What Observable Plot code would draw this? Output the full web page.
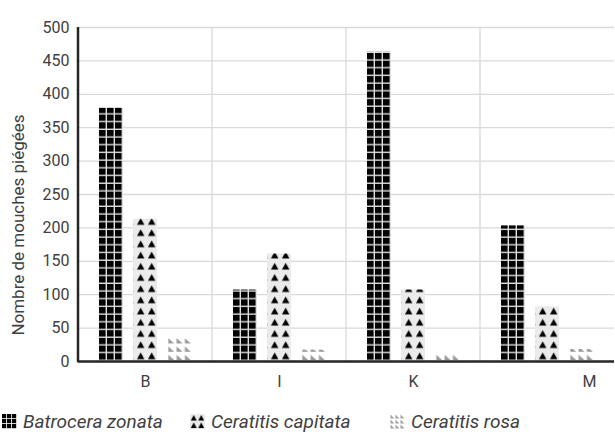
<!DOCTYPE html>
<html><head><meta charset="utf-8">
<script src="https://cdn.jsdelivr.net/npm/d3@7"></script>
<script src="https://cdn.jsdelivr.net/npm/@observablehq/plot@0.6"></script>
<style>
html,body{margin:0;padding:0;background:#fff;}
#wrap{position:relative;width:615px;height:442px;font-family:Roboto,"DejaVu Sans",sans-serif;overflow:hidden;}
#chart{position:absolute;left:0;top:0;}
#ylabel{position:absolute;left:18px;top:225px;transform:translate(-50%,-50%) rotate(-90deg);white-space:nowrap;font-size:17px;color:#404040;}
.leg{position:absolute;top:411px;height:20px;display:flex;align-items:center;font-style:italic;font-size:19px;color:#404040;white-space:nowrap;}
.leg svg{margin-right:6px;flex:none;}
</style></head>
<body><div id="wrap">
<svg width="0" height="0" style="position:absolute"><defs>
  <pattern id="pz" patternUnits="userSpaceOnUse" width="8" height="7.7">
    <rect width="8" height="7.7" fill="#e0e0e0"/><rect width="6.6" height="6.3" fill="#000"/>
  </pattern>
  <pattern id="pc" patternUnits="userSpaceOnUse" width="11" height="11.2">
    <rect width="11" height="11.2" fill="#ebebeb"/><path d="M1.8,9.8L5.5,3L9.2,9.8Z" fill="#000"/>
  </pattern>
  <pattern id="pr" patternUnits="userSpaceOnUse" width="8.3" height="8.3">
    <rect width="8.3" height="8.3" fill="#fff"/><path d="M1.3,2L1.3,7.3L7.2,7.3Z" fill="#9a9a9a"/>
  </pattern>
  <pattern id="lz" patternUnits="userSpaceOnUse" width="5" height="5">
    <rect width="5" height="5" fill="#fff"/><rect width="4.2" height="4.2" fill="#000"/>
  </pattern>
  <pattern id="lc" patternUnits="userSpaceOnUse" width="7.5" height="7.5">
    <rect width="7.5" height="7.5" fill="#ebebeb"/><path d="M0.8,6.5L3.75,1L6.7,6.5Z" fill="#000"/>
  </pattern>
  <pattern id="lr" patternUnits="userSpaceOnUse" width="5" height="5">
    <rect width="5" height="5" fill="#fff"/><path d="M0.5,0.6L0.5,4.4L4.4,4.4Z" fill="#a0a0a0"/>
  </pattern>
</defs></svg>
<div id="chart"></div>
<div id="ylabel">Nombre de mouches piégées</div>
</div>
<script>
const categories = ["B", "I", "K", "M"];
const series = ["Batrocera zonata", "Ceratitis capitata", "Ceratitis rosa"];
const zonata = [379, 107, 463, 203];
const capitata = [213, 161, 107, 82];
const rosa = [36, 17, 13, 18];
const yTicks = [0, 50, 100, 150, 200, 250, 300, 350, 400, 450, 500];

const barPatterns = ["pz", "pc", "pr"];
const legendPatterns = ["lz", "lc", "lr"];
const values = [zonata, capitata, rosa];

const rows = [];
categories.forEach((c, i) => {
  series.forEach((s, k) => rows.push({cat: c, s, v: values[k][i], fill: `url(#${barPatterns[k]})`}));
});

const labelStyle = {text: d => d, fx: d => d, frameAnchor: "bottom", lineAnchor: "top", dy: 14, fontSize: 16, fill: "#404040"};

const plot = Plot.plot({
  width: 615, height: 400,
  marginLeft: 77, marginRight: 0, marginTop: 27, marginBottom: 39,
  style: {fontFamily: "Roboto, 'DejaVu Sans', sans-serif", fontSize: "16px", color: "#404040", background: "transparent"},
  fx: {domain: categories, padding: 0, label: null, axis: null},
  x: {domain: series, axis: null, paddingInner: 0.3, paddingOuter: 0.57},
  y: {domain: [0, 500], label: null},
  color: {type: "identity"},
  marks: [
    Plot.gridY(yTicks, {stroke: "#d9d9d9", strokeOpacity: 1, strokeWidth: 1.3}),
    Plot.barY(rows, {fx: "cat", x: "s", y: "v", fill: "fill"}),
    Plot.ruleY([0], {stroke: "#262626", strokeWidth: 2.5}),
    Plot.axisY(yTicks, {tickSize: 0, tickPadding: 9, fontSize: 16, label: null}),
    Plot.text(categories.slice(0, 3), labelStyle),
    Plot.text(categories.slice(3), {...labelStyle, dx: 42})
  ]
});
document.getElementById("chart").appendChild(plot);

// vertical separators between categories and dark y-axis line, from the plot's scales
const svg = d3.select(plot);
const fx = plot.scale("fx"), y = plot.scale("y");
const gsep = svg.insert("g", ":first-child");
categories.slice(1).forEach(c => {
  const xx = fx.apply(c);
  gsep.append("line").attr("x1", xx).attr("x2", xx).attr("y1", y.apply(500)).attr("y2", y.apply(0))
    .attr("stroke", "#d9d9d9").attr("stroke-width", 1.3);
});
const x0 = fx.apply(categories[0]);
svg.append("line").attr("x1", x0).attr("x2", x0).attr("y1", y.apply(500)).attr("y2", y.apply(0) + 1.25)
  .attr("stroke", "#262626").attr("stroke-width", 2.5);

// align each bar pattern with its bars
barPatterns.forEach((id, k) => {
  const r = plot.querySelector(`rect[fill="url(#${id})"]`);
  if (!r) return;
  const bx = +r.getAttribute("x"), by = +r.getAttribute("y") + +r.getAttribute("height");
  const p = document.getElementById(id);
  const off = k === 1 ? 2.2 : 0;
  const oy = k === 1 ? -0.4 : 0;
  p.setAttribute("x", bx + off);
  p.setAttribute("y", by + oy);
});

// legend
const legendLeft = [2, 190, 390];
series.forEach((s, k) => {
  const d = document.createElement("div");
  d.className = "leg";
  d.style.left = legendLeft[k] + "px";
  d.innerHTML = `<svg width="15" height="15"><rect width="15" height="15" fill="url(#${legendPatterns[k]})"/></svg><span>${s}</span>`;
  document.getElementById("wrap").appendChild(d);
});
</script>
</body></html>
